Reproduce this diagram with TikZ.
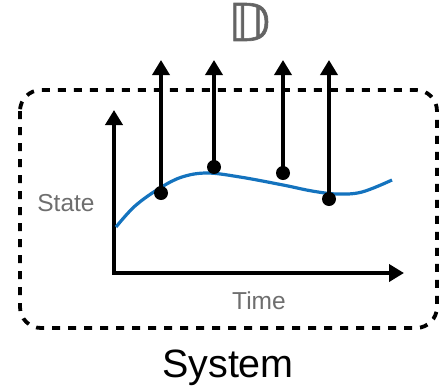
\documentclass[tikz,border=0pt]{standalone}
\usepackage{fontspec}
\setmainfont{Liberation Sans}
\newfontfamily\dvs[FakeBold=1.2]{DejaVu Sans}
\usetikzlibrary{arrows.meta}
\definecolor{curveblue}{RGB}{20,115,190}
\definecolor{labelgray}{RGB}{110,110,110}
\definecolor{dgray}{RGB}{100,100,100}
\begin{document}
\begin{tikzpicture}[x=1pt,y=-1pt,
  axis/.style={line width=3.8pt,-{Triangle[length=15pt,width=17pt]}},
  probe/.style={line width=3.5pt,-{Triangle[length=15pt,width=17pt]}},
  dot/.style={circle,fill=black,inner sep=0pt,minimum size=14pt},
  lbl/.style={text=labelgray,font=\fontsize{24.5}{28}\selectfont,inner sep=0pt},
  sysbox/.style={draw,line width=3.8pt,dash pattern=on 8pt off 8pt,rounded corners=21pt}]
\useasboundingbox (0,0) rectangle (442,389);
% system box
\draw[sysbox] (20,90) rectangle (437,328);
% axes
\coordinate (o) at (114,273);
\coordinate (ytip) at (114,110);
\coordinate (xtip) at (404,273);
\draw[axis] (o) -- (ytip);
\draw[axis] ([xshift=-1.9pt]o) -- (xtip);
% curve
\draw[curveblue,line width=3.2pt] plot[smooth,tension=0.6] coordinates
  {(116,227) (135,206) (160,188) (182,177) (207,173) (240,177) (283,185) (312,191) (337,194) (362,192) (392,180)};
% probes
\node[dot] (d1) at (161,193) {};
\node[dot] (d2) at (214,167) {};
\node[dot] (d3) at (283,173) {};
\node[dot] (d4) at (329,199) {};
\coordinate (t1) at (161,60);
\coordinate (t2) at (214,60);
\coordinate (t3) at (283,60);
\coordinate (t4) at (329,60);
\draw[probe] (d1.center) -- (t1);
\draw[probe] (d2.center) -- (t2);
\draw[probe] (d3.center) -- (t3);
\draw[probe] (d4.center) -- (t4);
% labels
\node[lbl] (state) at (66,203) {State};
\node[lbl] (time) at (259,301) {Time};
\node[inner sep=0pt,font=\fontsize{39.5}{44}\selectfont] (sys) at (228,368) {System};
\node[inner sep=0pt,text=dgray,font=\dvs\fontsize{52}{56}\selectfont] (D) at (249,22) {𝔻};
\end{tikzpicture}
\end{document}
